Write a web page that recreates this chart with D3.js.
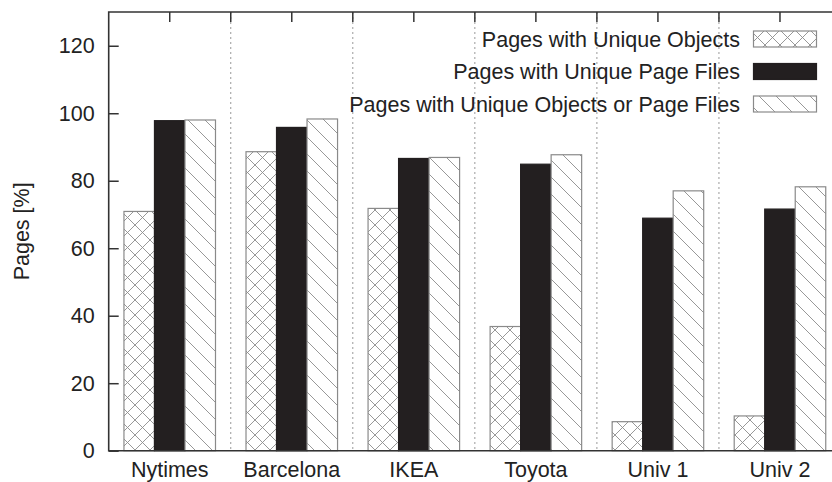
<!DOCTYPE html>
<html>
<head>
<meta charset="utf-8">
<script src="https://cdn.jsdelivr.net/npm/d3@7"></script>
<style>
  html, body { margin: 0; padding: 0; background: #fff; }
  svg { display: block; font-family: "Liberation Sans", Arial, Helvetica, sans-serif; }
</style>
</head>
<body>
<svg id="chart" width="832" height="482"></svg>
<script>
const categories = ["Nytimes", "Barcelona", "IKEA", "Toyota", "Univ 1", "Univ 2"];
const seriesNames = ["Pages with Unique Objects", "Pages with Unique Page Files", "Pages with Unique Objects or Page Files"];
const uniqueObjects = [70.9, 88.6, 71.8, 36.8, 8.6, 10.3];
const uniquePageFiles = [97.8, 95.8, 86.6, 84.9, 68.9, 71.6];
const uniqueEither = [98.0, 98.3, 86.9, 87.7, 77.0, 78.2];
const yTicks = [0, 20, 40, 60, 80, 100, 120];
const yLabel = "Pages [%]";

const seriesValues = [uniqueObjects, uniquePageFiles, uniqueEither];
const fills = ["url(#crosshatch)", "#231f20", "url(#hatch)"];
const strokes = ["#8a8a8a", "#231f20", "#8a8a8a"];
const FS = 21.5;

const margin = { left: 108.7, top: 12, right: 841, bottom: 450.7 };
const svg = d3.select("#chart");

// patterns
const defs = svg.append("defs");
const ch = defs.append("pattern").attr("id", "crosshatch")
  .attr("patternUnits", "userSpaceOnUse").attr("width", 15).attr("height", 15);
ch.append("rect").attr("width", 15).attr("height", 15).attr("fill", "#fff");
ch.append("path").attr("d", "M0,0L15,15M-1,14L1,16M14,-1L16,1M0,15L15,0M-1,1L1,-1M14,16L16,14")
  .attr("stroke", "#8c8c8c").attr("stroke-width", 0.9);
const hp = defs.append("pattern").attr("id", "hatch")
  .attr("patternUnits", "userSpaceOnUse").attr("width", 17).attr("height", 17);
hp.append("rect").attr("width", 17).attr("height", 17).attr("fill", "#fff");
hp.append("path").attr("d", "M0,0L17,17M-1,16L1,18M16,-1L18,1")
  .attr("stroke", "#8c8c8c").attr("stroke-width", 0.9);

const x0 = d3.scaleBand().domain(categories).range([margin.left, margin.right]).paddingInner(0).paddingOuter(0);
const x1 = d3.scaleBand().domain(d3.range(seriesNames.length)).range([0, x0.bandwidth()]).paddingInner(0).paddingOuter(0.5);
const y = d3.scaleLinear().domain([0, 130]).range([margin.bottom, margin.top]);

// dotted separators
const seps = categories.slice(1).map(c => x0(c));
svg.append("g").selectAll("line").data(seps).join("line")
  .attr("x1", d => d).attr("x2", d => d)
  .attr("y1", margin.top).attr("y2", margin.bottom)
  .attr("stroke", "#999").attr("stroke-width", 1).attr("stroke-dasharray", "2,3");

// bars
const gBars = svg.append("g");
seriesValues.forEach((vals, si) => {
  gBars.append("g").selectAll("rect").data(vals).join("rect")
    .attr("x", (d, i) => x0(categories[i]) + x1(si))
    .attr("y", d => y(d))
    .attr("width", x1.bandwidth())
    .attr("height", d => y(0) - y(d))
    .attr("fill", fills[si])
    .attr("stroke", strokes[si])
    .attr("stroke-width", 1.2);
});

// y axis
const yAxis = d3.axisLeft(y).tickValues(yTicks).tickSize(-10).tickPadding(14).tickFormat(d3.format("d"));
const gy = svg.append("g").attr("transform", `translate(${margin.left},0)`).call(yAxis);
gy.select(".domain").remove();
gy.selectAll(".tick line").attr("stroke", "#333").attr("stroke-width", 1.5);
gy.selectAll(".tick text").attr("font-size", FS).attr("fill", "#222").attr("font-family", "Liberation Sans, Arial, sans-serif");

// x axis labels
const xAxis = d3.axisBottom(x0).tickSize(0).tickPadding(11);
const gx = svg.append("g").attr("transform", `translate(0,${margin.bottom})`).call(xAxis);
gx.select(".domain").remove();
gx.selectAll(".tick text").attr("font-size", FS).attr("fill", "#222").attr("font-family", "Liberation Sans, Arial, sans-serif");

// top ticks at centers and separators
const topTicks = categories.map(c => x0(c) + x0.bandwidth() / 2).concat(seps);
svg.append("g").selectAll("line").data(topTicks).join("line")
  .attr("x1", d => d).attr("x2", d => d)
  .attr("y1", margin.top).attr("y2", margin.top + 10)
  .attr("stroke", "#333").attr("stroke-width", 1.5);

// frame
svg.append("path")
  .attr("d", `M${margin.right},${margin.top}H${margin.left}V${margin.bottom}H${margin.right}`)
  .attr("fill", "none").attr("stroke", "#333").attr("stroke-width", 1.6);

// y label
svg.append("text")
  .attr("transform", `translate(28.5,${(margin.top + margin.bottom) / 2}) rotate(-90)`)
  .attr("text-anchor", "middle").attr("font-size", FS).attr("fill", "#222")
  .text(yLabel);

// legend
const legendY = [39, 71.5, 104];
const legend = svg.append("g");
seriesNames.forEach((name, si) => {
  legend.append("text")
    .attr("x", 740).attr("y", legendY[si]).attr("dy", "0.35em")
    .attr("text-anchor", "end").attr("font-size", FS).attr("fill", "#222")
    .text(name);
  legend.append("rect")
    .attr("x", 753.5).attr("y", legendY[si] - 8)
    .attr("width", 63).attr("height", 16)
    .attr("fill", fills[si]).attr("stroke", strokes[si]).attr("stroke-width", 1.2);
});
</script>
</body>
</html>
